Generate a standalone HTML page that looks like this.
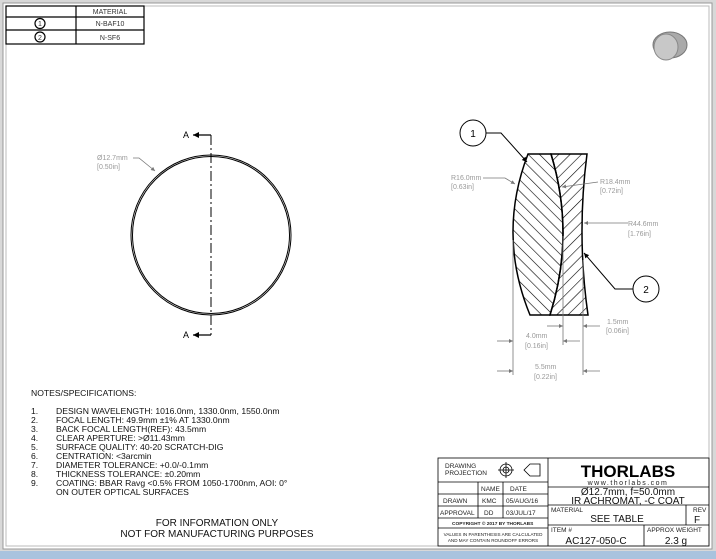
<!DOCTYPE html>
<html><head><style>
body{margin:0;background:#fff;}
svg{display:block;font-family:"Liberation Sans",sans-serif;}
</style></head><body>
<svg width="716" height="559" viewBox="0 0 716 559" xmlns="http://www.w3.org/2000/svg">
<defs>
<pattern id="h1" width="8" height="8" patternUnits="userSpaceOnUse" patternTransform="rotate(-45)"><line x1="0" y1="0" x2="0" y2="8" stroke="#000" stroke-width="1.2"/></pattern>
<pattern id="h2" width="8" height="8" patternUnits="userSpaceOnUse" patternTransform="rotate(45)"><line x1="0" y1="0" x2="0" y2="8" stroke="#000" stroke-width="1.2"/></pattern>
<marker id="ar" viewBox="0 0 10 10" refX="10" refY="5" markerWidth="7" markerHeight="5" orient="auto"><path d="M0,0 L10,5 L0,10z" fill="#000"/></marker>
<marker id="ag" viewBox="0 0 10 10" refX="10" refY="5" markerWidth="7" markerHeight="5" orient="auto"><path d="M0,0 L10,5 L0,10z" fill="#777"/></marker>
</defs>
<rect x="0" y="0" width="716" height="559" fill="#d8d8d8"/>
<rect x="0" y="551" width="716" height="8" fill="#a9c3de"/>
<rect x="3" y="3" width="709" height="546" fill="#fff" stroke="#999"/>
<rect x="6" y="6" width="703" height="540" fill="#fff" stroke="#bbb"/>

<g stroke="#000" stroke-width="1.2" fill="none">
<rect x="6" y="6" width="138" height="38"/>
<line x1="6" y1="17" x2="144" y2="17"/><line x1="6" y1="30" x2="144" y2="30"/>
<line x1="76" y1="6" x2="76" y2="44"/>
<circle cx="40" cy="23.5" r="5"/><circle cx="40" cy="37" r="5"/>
</g>
<g font-size="7" fill="#333" text-anchor="middle">
<text x="110" y="14">MATERIAL</text><text x="110" y="26">N-BAF10</text><text x="110" y="40">N-SF6</text>
<text x="40" y="26">1</text><text x="40" y="40">2</text>
</g>

<ellipse cx="670" cy="45" rx="17" ry="13" fill="#aaa" stroke="#777"/>
<ellipse cx="666" cy="47" rx="12" ry="13" fill="#c8c8c8" stroke="#888"/>

<circle cx="211" cy="235" r="80" fill="none" stroke="#000" stroke-width="1"/>
<circle cx="211" cy="235" r="78.5" fill="none" stroke="#000" stroke-width="1"/>
<line x1="211" y1="135" x2="211" y2="335" stroke="#000" stroke-width="1" stroke-dasharray="10,3,2,3"/>
<polyline points="211,135 193,135" fill="none" stroke="#000" stroke-width="1.2" marker-end="url(#ar)"/>
<polyline points="211,335 193,335" fill="none" stroke="#000" stroke-width="1.2" marker-end="url(#ar)"/>
<text x="183" y="138" font-size="9">A</text><text x="183" y="338" font-size="9">A</text>
<polyline points="133,158 139,158 155,171" fill="none" stroke="#777" stroke-width="0.8" marker-end="url(#ag)"/>
<text x="97" y="160" font-size="7" fill="#999">Ø12.7mm</text><text x="97" y="169" font-size="7" fill="#999">[0.50in]</text>

<path d="M528,154 Q497,234.5 530,315 L550,315 Q575.5,234.5 551,154 Z" fill="url(#h1)" stroke="#000" stroke-width="1.5"/>
<path d="M551,154 L587,154 Q576.5,234.5 588,315 L550,315 Q575.5,234.5 551,154 Z" fill="url(#h2)" stroke="#000" stroke-width="1.5"/>
<circle cx="473" cy="133" r="13" fill="#fff" stroke="#000"/><text x="473" y="137" font-size="10" text-anchor="middle">1</text>
<polyline points="486,133 501,133 527,162" fill="none" stroke="#000" marker-end="url(#ar)"/>
<circle cx="646" cy="289" r="13" fill="#fff" stroke="#000"/><text x="646" y="293" font-size="10" text-anchor="middle">2</text>
<polyline points="633,289 615,289 584,253" fill="none" stroke="#000" marker-end="url(#ar)"/>
<g stroke="#777" stroke-width="0.8" fill="none">
<polyline points="483,178 505,178 515,184" marker-end="url(#ag)"/>
<polyline points="598,182 562,187" marker-end="url(#ag)"/>
<polyline points="628,223 584,223" marker-end="url(#ag)"/>
<line x1="513" y1="240" x2="513" y2="375"/>
<line x1="563" y1="236" x2="563" y2="345"/>
<line x1="583" y1="260" x2="583" y2="375"/>
<line x1="547" y1="326" x2="563" y2="326" marker-end="url(#ag)"/>
<line x1="600" y1="326" x2="583" y2="326" marker-end="url(#ag)"/>
<line x1="497" y1="341" x2="513" y2="341" marker-end="url(#ag)"/>
<line x1="580" y1="341" x2="563" y2="341" marker-end="url(#ag)"/>
<line x1="497" y1="371" x2="513" y2="371" marker-end="url(#ag)"/>
<line x1="600" y1="371" x2="583" y2="371" marker-end="url(#ag)"/>
</g>
<g font-size="7" fill="#999">
<text x="451" y="180">R16.0mm</text><text x="451" y="189">[0.63in]</text>
<text x="600" y="184">R18.4mm</text><text x="600" y="193">[0.72in]</text>
<text x="628" y="226">R44.6mm</text><text x="628" y="236">[1.76in]</text>
<text x="607" y="324">1.5mm</text><text x="606" y="333">[0.06in]</text>
<text x="526" y="338">4.0mm</text><text x="525" y="348">[0.16in]</text>
<text x="535" y="369">5.5mm</text><text x="534" y="379">[0.22in]</text>
</g>

<g font-size="8.6" fill="#111">
<text x="31" y="396">NOTES/SPECIFICATIONS:</text>
<text x="31" y="414">1.</text><text x="56" y="414">DESIGN WAVELENGTH: 1016.0nm, 1330.0nm, 1550.0nm</text>
<text x="31" y="423">2.</text><text x="56" y="423">FOCAL LENGTH: 49.9mm ±1% AT 1330.0nm</text>
<text x="31" y="432">3.</text><text x="56" y="432">BACK FOCAL LENGTH(REF): 43.5mm</text>
<text x="31" y="441">4.</text><text x="56" y="441">CLEAR APERTURE: &gt;Ø11.43mm</text>
<text x="31" y="450">5.</text><text x="56" y="450">SURFACE QUALITY: 40-20 SCRATCH-DIG</text>
<text x="31" y="459">6.</text><text x="56" y="459">CENTRATION: &lt;3arcmin</text>
<text x="31" y="468">7.</text><text x="56" y="468">DIAMETER TOLERANCE: +0.0/-0.1mm</text>
<text x="31" y="477">8.</text><text x="56" y="477">THICKNESS TOLERANCE: ±0.20mm</text>
<text x="31" y="486">9.</text><text x="56" y="486">COATING: BBAR Ravg &lt;0.5% FROM 1050-1700nm, AOI: 0°</text>
<text x="56" y="495">ON OUTER OPTICAL SURFACES</text>
</g>
<g font-size="10" fill="#111" text-anchor="middle">
<text x="217" y="526">FOR INFORMATION ONLY</text>
<text x="217" y="537">NOT FOR MANUFACTURING PURPOSES</text>
</g>

<g stroke="#000" stroke-width="0.8" fill="none">
<rect x="438" y="458" width="271" height="88"/>
<line x1="548" y1="458" x2="548" y2="546"/>
<line x1="438" y1="482" x2="548" y2="482"/>
<line x1="438" y1="494" x2="548" y2="494"/>
<line x1="438" y1="506" x2="548" y2="506"/>
<line x1="438" y1="518" x2="548" y2="518"/>
<line x1="438" y1="528" x2="548" y2="528"/>
<line x1="478" y1="482" x2="478" y2="518"/>
<line x1="503" y1="482" x2="503" y2="518"/>
<line x1="548" y1="487" x2="709" y2="487"/>
<line x1="548" y1="505" x2="709" y2="505"/>
<line x1="548" y1="525" x2="709" y2="525"/>
<line x1="686" y1="505" x2="686" y2="525"/>
<line x1="644" y1="525" x2="644" y2="546"/>
<circle cx="506" cy="470" r="6"/><circle cx="506" cy="470" r="3"/>
<line x1="498" y1="470" x2="514" y2="470"/><line x1="506" y1="462" x2="506" y2="478"/>
<path d="M524,470 L530,464 L540,464 L540,476 L530,476 Z"/>
</g>
<g font-size="6.5" fill="#222">
<text x="445" y="468">DRAWING</text><text x="445" y="475">PROJECTION</text>
<text x="481" y="491">NAME</text><text x="510" y="491">DATE</text>
<text x="443" y="503">DRAWN</text><text x="482" y="503">KMC</text><text x="506" y="503">05/AUG/16</text>
<text x="440" y="515">APPROVAL</text><text x="484" y="515">DD</text><text x="506" y="515">03/JUL/17</text>
<text x="452" y="525" font-size="4.8" font-weight="bold">COPYRIGHT © 2017 BY THORLABS</text>
<text x="493" y="536" font-size="4.6" text-anchor="middle">VALUES IN PARENTHESIS ARE CALCULATED</text>
<text x="493" y="542" font-size="4.6" text-anchor="middle">AND MAY CONTAIN ROUNDOFF ERRORS</text>
<text x="551" y="512">MATERIAL</text><text x="693" y="512">REV</text>
<text x="551" y="532">ITEM #</text><text x="647" y="532">APPROX WEIGHT</text>
</g>
<text x="628" y="477" font-size="17" font-weight="bold" text-anchor="middle" fill="#000">THORLABS</text>
<text x="628" y="485" font-size="7" text-anchor="middle" letter-spacing="1.5" fill="#222">www.thorlabs.com</text>
<g font-size="10" fill="#111" text-anchor="middle">
<text x="628" y="495">Ø12.7mm, f=50.0mm</text>
<text x="628" y="504">IR ACHROMAT, -C COAT</text>
<text x="617" y="522">SEE TABLE</text>
<text x="697" y="523">F</text>
<text x="596" y="544">AC127-050-C</text>
<text x="676" y="544">2.3 g</text>
</g>
</svg>
</body></html>
